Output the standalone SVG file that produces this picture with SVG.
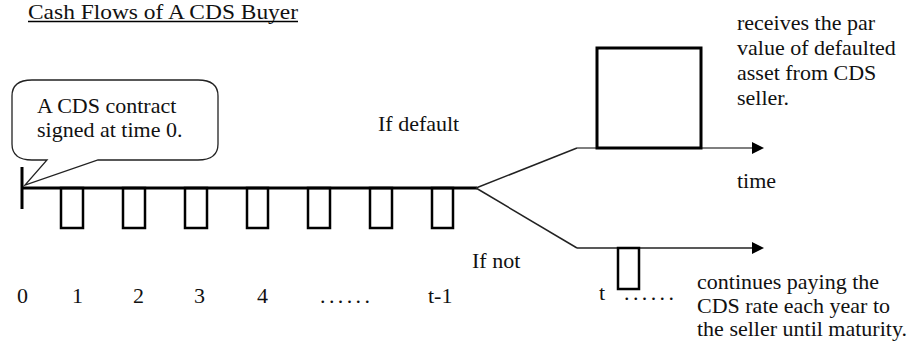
<svg xmlns="http://www.w3.org/2000/svg" width="916" height="342" viewBox="0 0 916 342">
<defs>
<style>
text{font-family:"Liberation Serif","Times New Roman",serif;fill:#111;font-size:22px}
.thick{stroke:#000;stroke-width:3;fill:none}
.box{stroke:#000;stroke-width:2.5;fill:none}
</style>
<marker id="arr" markerWidth="12" markerHeight="12" refX="10" refY="6" orient="auto" markerUnits="userSpaceOnUse" viewBox="0 0 12 12">
<path d="M0,0 L12,6 L0,12 Z" fill="#000"/>
</marker>
</defs>
<rect width="916" height="342" fill="#fff"/>
<g id="title">
<text x="28" y="19" font-size="20" textLength="270" lengthAdjust="spacingAndGlyphs">Cash Flows of A CDS Buyer</text>
<line x1="28" y1="21.5" x2="298" y2="21.5" stroke="#000" stroke-width="1.5"/>
</g>
<g id="callout">
<path d="M32,80 H198 Q218,80 218,96 V144 Q218,160 198,160 H98 L25,185 L47,160 H32 Q12,160 12,144 V96 Q12,80 32,80 Z" fill="#fff" stroke="#222" stroke-width="1.3"/>
<text x="37" y="113">A CDS contract</text>
<text x="37" y="137">signed at time 0.</text>
</g>
<g id="connectors">
<line x1="22" y1="167" x2="22" y2="209" class="thick"/>
<line x1="22" y1="188" x2="477" y2="188" class="thick"/>
<line x1="476" y1="188" x2="577" y2="148" stroke="#222" stroke-width="1.5"/>
<line x1="476" y1="188" x2="577" y2="248" stroke="#222" stroke-width="1.5"/>
<line x1="577" y1="148" x2="762" y2="148" stroke="#555" stroke-width="1.5" marker-end="url(#arr)"/>
<line x1="577" y1="248" x2="762" y2="248" stroke="#222" stroke-width="1.5" marker-end="url(#arr)"/>
</g>
<g id="payments">
<rect x="61" y="188" width="22" height="40" class="box"/>
<rect x="123" y="188" width="22" height="40" class="box"/>
<rect x="185" y="188" width="22" height="40" class="box"/>
<rect x="247" y="188" width="21" height="40" class="box"/>
<rect x="308" y="188" width="22" height="40" class="box"/>
<rect x="370" y="188" width="22" height="40" class="box"/>
<rect x="432" y="188" width="21" height="40" class="box"/>
</g>
<g id="default-payoff">
<rect x="597" y="48" width="104" height="100" class="thick"/>
</g>
<g id="continued-payment">
<rect x="618" y="248" width="21" height="41" class="box"/>
</g>
<g id="labels">
<text x="378" y="131">If  default</text>
<text x="472" y="268">If not</text>
<text x="737" y="188">time</text>
<text x="17" y="303">0</text>
<text x="72" y="303">1</text>
<text x="133" y="303">2</text>
<text x="194" y="303">3</text>
<text x="257" y="303">4</text>
<text x="320" y="303" textLength="50" lengthAdjust="spacing">......</text>
<text x="428" y="303">t-1</text>
<text x="599" y="300">t</text>
<text x="624" y="300" textLength="50" lengthAdjust="spacing">......</text>
</g>
<g id="receives-text">
<text x="737" y="30">receives the par</text>
<text x="737" y="55">value of defaulted</text>
<text x="737" y="80">asset from CDS</text>
<text x="737" y="105">seller.</text>
</g>
<g id="continues-text">
<text x="697" y="289">continues paying the</text>
<text x="697" y="313">CDS rate each year to</text>
<text x="697" y="336">the seller until maturity.</text>
</g>
</svg>
